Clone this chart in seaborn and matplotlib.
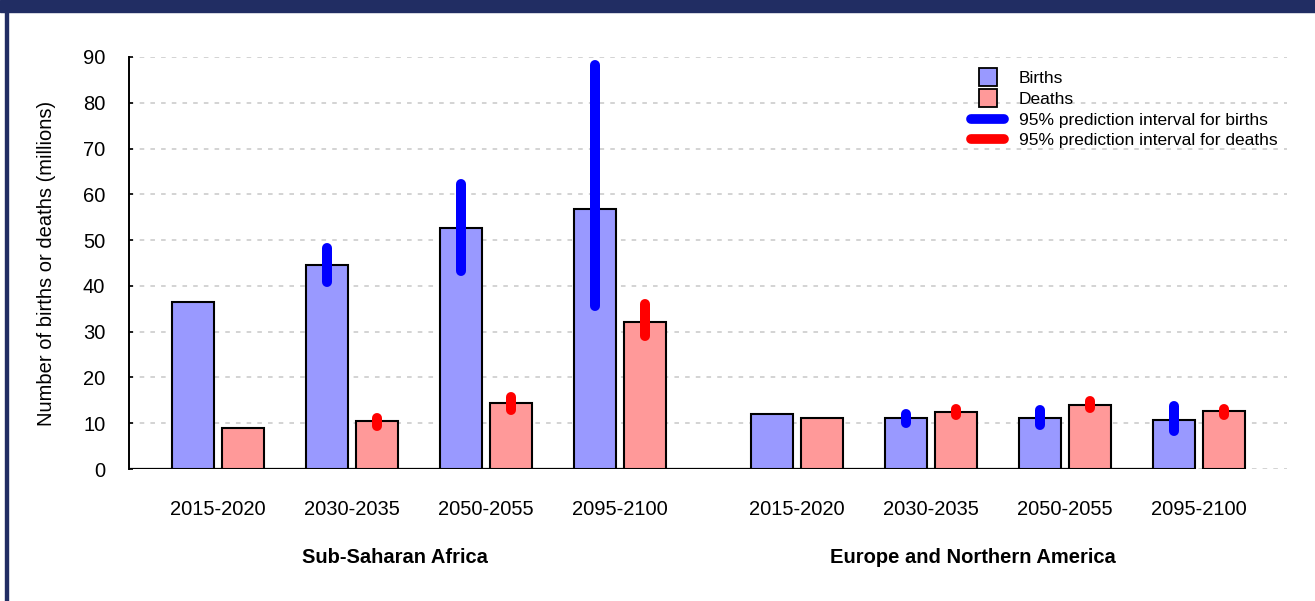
import numpy as np
import pandas as pd
import matplotlib
matplotlib.use("Agg")
import matplotlib.pyplot as plt
import seaborn as sns
from matplotlib.lines import Line2D
from matplotlib.patches import Rectangle

# data (millions)
periods = ["2015-2020", "2030-2035", "2050-2055", "2095-2100"]
regions = ["Sub-Saharan Africa", "Europe and Northern America"]

ssa_births = [36.5, 44.6, 52.6, 56.8]
ssa_deaths = [9.0, 10.5, 14.4, 32.1]
ssa_births_lo = [np.nan, 40.9, 43.2, 35.5]
ssa_births_hi = [np.nan, 48.3, 62.3, 88.2]
ssa_deaths_lo = [np.nan, 9.5, 13.0, 29.1]
ssa_deaths_hi = [np.nan, 11.2, 15.8, 36.0]

ena_births = [12.0, 11.2, 11.2, 10.7]
ena_deaths = [11.1, 12.5, 14.0, 12.6]
ena_births_lo = [np.nan, 10.1, 9.7, 8.4]
ena_births_hi = [np.nan, 12.1, 12.8, 13.7]
ena_deaths_lo = [np.nan, 11.8, 13.3, 11.8]
ena_deaths_hi = [np.nan, 13.1, 14.8, 13.2]

# x positions: two groups of four periods with a small extra gap between groups
group_gap = 0.32
pos = np.concatenate([np.arange(4), np.arange(4) + 4 + group_gap])

df = pd.DataFrame({
    "pos": np.concatenate([pos, pos]),
    "value": ssa_births + ena_births + ssa_deaths + ena_deaths,
    "kind": ["Births"] * 8 + ["Deaths"] * 8,
})

births_lo = ssa_births_lo + ena_births_lo
births_hi = ssa_births_hi + ena_births_hi
deaths_lo = ssa_deaths_lo + ena_deaths_lo
deaths_hi = ssa_deaths_hi + ena_deaths_hi

sns.set_style("white")
plt.rcParams["font.family"] = ["Liberation Sans", "DejaVu Sans"]
plt.rcParams["text.color"] = "black"
plt.rcParams["axes.labelcolor"] = "black"
plt.rcParams["xtick.color"] = "black"
plt.rcParams["ytick.color"] = "black"

fig = plt.figure(figsize=(13.15, 6.01), dpi=100)
ax = fig.add_axes([0.098, 0.2196, 0.881, 0.6856])

# dashed grid
for yv in range(0, 91, 10):
    ax.axhline(yv, color="#c8c8c8", lw=1.1, ls=(0, (3, 4)), zorder=0)

# baseline
ax.hlines(0, -0.7, 7.3, color="black", lw=1.6, zorder=1)

palette = {"Births": "#9999FF", "Deaths": "#FF9999"}
sns.barplot(data=df, x="pos", y="value", hue="kind", native_scale=True,
            palette=palette, width=0.75, gap=0.17, dodge=True,
            edgecolor="black", linewidth=1.5, saturation=1, errorbar=None,
            legend=False, ax=ax, zorder=2)

off = 0.1875
ax.vlines(pos - off, births_lo, births_hi, colors="#0000FF", lw=7.2,
          capstyle="round", zorder=4)
ax.vlines(pos + off, deaths_lo, deaths_hi, colors="#FF0000", lw=7.2,
          capstyle="round", zorder=4)

ax.set_xlim(-0.664, 7.98)
ax.set_ylim(0, 90)
ax.set_yticks(range(0, 91, 10))
ax.set_xticks(pos)
ax.set_xticklabels(periods * 2, fontsize=14.5)
ax.tick_params(axis="x", length=0, pad=22)
ax.tick_params(axis="y", labelsize=14.5, direction="in", length=3, width=1.2,
               left=True, pad=17)
ax.set_xlabel("")
ax.set_ylabel("Number of births or deaths (millions)", fontsize=14.5, labelpad=19)
for s in ["top", "right", "bottom"]:
    ax.spines[s].set_visible(False)
ax.spines["left"].set_color("black")
ax.spines["left"].set_linewidth(1.4)

# group labels
ax.text(1.32, -19.3, regions[0], ha="center", va="center", fontsize=14.5,
        fontweight="bold")
ax.text(5.63, -19.3, regions[1], ha="center", va="center", fontsize=14.5,
        fontweight="bold")

handles = [
    Line2D([], [], ls="none", marker="s", markersize=12.5, markerfacecolor="#9999FF",
           markeredgecolor="black", markeredgewidth=1.3),
    Line2D([], [], ls="none", marker="s", markersize=12.5, markerfacecolor="#FF9999",
           markeredgecolor="black", markeredgewidth=1.3),
    Line2D([], [], color="#0000FF", lw=7, solid_capstyle="round"),
    Line2D([], [], color="#FF0000", lw=7, solid_capstyle="round"),
]
labels = ["Births", "Deaths", "95% prediction interval for births",
          "95% prediction interval for deaths"]
fig.legend(handles, labels, loc="upper left", bbox_to_anchor=(0.732, 0.896),
           frameon=False, fontsize=12.5, labelspacing=0.32, handlelength=1.9,
           handletextpad=0.85, borderpad=0)

# page frame: navy band on top and thin line on the left
fig.patches.append(Rectangle((0, 1 - 12 / 601), 1, 12 / 601, transform=fig.transFigure,
                             color="#212d63", zorder=-1))
fig.patches.append(Rectangle((5 / 1315, 0), 3 / 1315, 1, transform=fig.transFigure,
                             color="#212d63", zorder=-1))

fig.savefig("out.png", dpi=100)
